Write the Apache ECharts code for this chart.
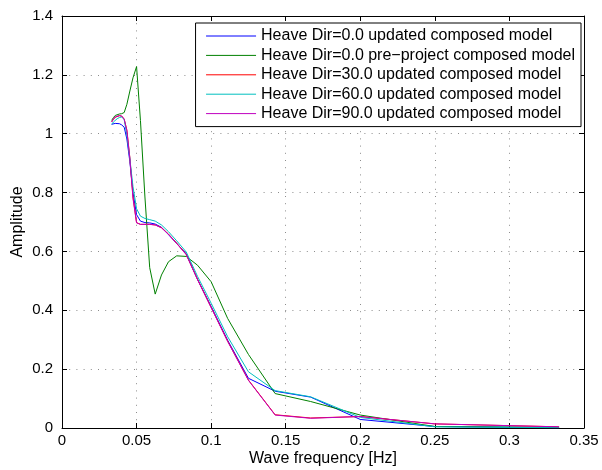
<!DOCTYPE html>
<html>
<head>
<meta charset="utf-8">
<script src="https://cdn.jsdelivr.net/npm/echarts@6/dist/echarts.min.js"></script>
<style>
  html, body { margin: 0; padding: 0; background: #fff; }
  #chart { width: 602px; height: 470px; }
</style>
</head>
<body>
<div id="chart"></div>
<script>
// Wave frequencies [Hz] of the computed cases
const freq = [0.0333, 0.0345, 0.0357, 0.0370, 0.0385, 0.0400, 0.0417, 0.0435, 0.0455, 0.0476,
              0.0500, 0.0526, 0.0556, 0.0588, 0.0625, 0.0667, 0.0714, 0.0769, 0.0833, 0.0909,
              0.1000, 0.1111, 0.1250, 0.1429, 0.1667, 0.2000, 0.2500, 0.3333];

// Heave amplitude per heading
const dir0Updated = [1.032, 1.034, 1.035, 1.035, 1.034, 1.030, 1.022, 0.982, 0.905, 0.800,
                     0.725, 0.703, 0.698, 0.697, 0.693, 0.682, 0.657, 0.627, 0.592, 0.505,
                     0.413, 0.298, 0.169, 0.125, 0.105, 0.029, 0.005, 0.001];
const dir0PreProject = [1.045, 1.055, 1.062, 1.065, 1.067, 1.068, 1.072, 1.100, 1.145, 1.190,
                        1.228, 1.045, 0.785, 0.545, 0.455, 0.520, 0.565, 0.585, 0.583, 0.553,
                        0.497, 0.372, 0.250, 0.117, 0.090, 0.044, 0.005, 0.002];
const dir30Updated = [1.040, 1.049, 1.056, 1.060, 1.061, 1.060, 1.050, 1.012, 0.918, 0.785,
                      0.698, 0.692, 0.692, 0.692, 0.690, 0.681, 0.659, 0.628, 0.590, 0.505,
                      0.410, 0.295, 0.163, 0.045, 0.034, 0.039, 0.014, 0.004];
const dir60Updated = [1.032, 1.040, 1.046, 1.051, 1.055, 1.057, 1.048, 0.995, 0.915, 0.820,
                      0.745, 0.720, 0.712, 0.708, 0.703, 0.690, 0.667, 0.636, 0.598, 0.515,
                      0.424, 0.310, 0.191, 0.127, 0.106, 0.036, 0.004, 0.001];
const dir90Updated = [1.040, 1.050, 1.057, 1.060, 1.062, 1.060, 1.049, 1.010, 0.915, 0.780,
                      0.697, 0.692, 0.692, 0.692, 0.690, 0.680, 0.658, 0.627, 0.589, 0.504,
                      0.409, 0.294, 0.162, 0.044, 0.033, 0.039, 0.014, 0.004];

const seriesNames = [
  'Heave Dir=0.0 updated composed model',
  'Heave Dir=0.0 pre\u2212project composed model',
  'Heave Dir=30.0 updated composed model',
  'Heave Dir=60.0 updated composed model',
  'Heave Dir=90.0 updated composed model'
];
const seriesValues = [dir0Updated, dir0PreProject, dir30Updated, dir60Updated, dir90Updated];
const seriesColors = ['#0000ff', '#008000', '#ff0000', '#00bfbf', '#bf00bf'];

const xTickLabels = ['0', '0.05', '0.1', '0.15', '0.2', '0.25', '0.3', '0.35'];
const yTickLabels = ['0', '0.2', '0.4', '0.6', '0.8', '1', '1.2', '1.4'];

const FONT = '"Liberation Sans", Arial, Helvetica, sans-serif';
const gridDots = { color: '#8c8c8c', width: 1, type: [1, 6.2] };
const tickStyle = { inside: true, length: 5, lineStyle: { color: '#000', width: 1 } };
const boxLine = { show: true, onZero: false, lineStyle: { color: '#000', width: 1 } };

const chart = echarts.init(document.getElementById('chart'), null, { renderer: 'canvas' });

chart.setOption({
  animation: false,
  backgroundColor: '#fff',
  grid: { left: 62, right: 18, top: 16, bottom: 42, containLabel: false, outerBoundsMode: 'none' },
  legend: {
    orient: 'vertical',
    right: 21,
    top: 23,
    itemWidth: 50,
    itemHeight: 14,
    itemGap: 3.4,
    padding: [5, 6, 5, 10],
    backgroundColor: '#fff',
    borderColor: '#000',
    borderWidth: 1,
    borderRadius: 0,
    itemStyle: { opacity: 0 },
    lineStyle: { width: 1 },
    textStyle: { fontFamily: FONT, fontSize: 16, color: '#000' },
    data: seriesNames
  },
  xAxis: [
    {
      type: 'value', min: 0, max: 0.35, interval: 0.05,
      name: 'Wave frequency [Hz]', nameLocation: 'middle', nameGap: 23, nameMoveOverlap: false,
      nameTextStyle: { fontFamily: FONT, fontSize: 16, color: '#000' },
      axisLine: boxLine, axisTick: tickStyle,
      axisLabel: {
        margin: 5, fontFamily: FONT, fontSize: 15, color: '#000',
        formatter: v => xTickLabels[Math.round(v / 0.05)]
      },
      splitLine: { show: true, lineStyle: gridDots }
    },
    {
      type: 'value', min: 0, max: 0.35, interval: 0.05, position: 'top',
      axisLine: boxLine, axisTick: tickStyle,
      axisLabel: { show: false }, splitLine: { show: false }
    }
  ],
  yAxis: [
    {
      type: 'value', min: 0, max: 1.4, interval: 0.2,
      name: 'Amplitude', nameLocation: 'middle', nameGap: 36, nameRotate: 90, nameMoveOverlap: false,
      nameTextStyle: { fontFamily: FONT, fontSize: 16, color: '#000' },
      axisLine: boxLine, axisTick: tickStyle,
      axisLabel: {
        margin: 9, fontFamily: FONT, fontSize: 15, color: '#000',
        formatter: v => yTickLabels[Math.round(v / 0.2)]
      },
      splitLine: { show: true, lineStyle: gridDots }
    },
    {
      type: 'value', min: 0, max: 1.4, interval: 0.2, position: 'right',
      axisLine: boxLine, axisTick: tickStyle,
      axisLabel: { show: false }, splitLine: { show: false }
    }
  ],
  series: seriesNames.map((name, k) => ({
    name: name,
    type: 'line',
    xAxisIndex: 0,
    yAxisIndex: 0,
    symbol: 'none',
    smooth: false,
    color: seriesColors[k],
    lineStyle: { color: seriesColors[k], width: 1 },
    data: freq.map((f, i) => [f, seriesValues[k][i]])
  }))
});
</script>
</body>
</html>
